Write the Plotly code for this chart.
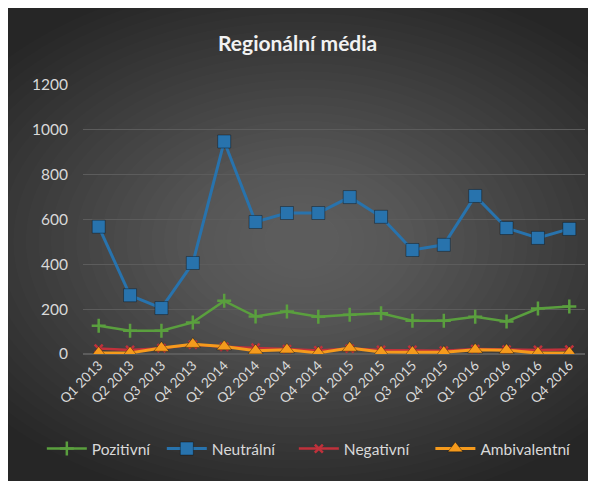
import plotly.graph_objects as go

# data
quarters = ['Q1 2013', 'Q2 2013', 'Q3 2013', 'Q4 2013',
            'Q1 2014', 'Q2 2014', 'Q3 2014', 'Q4 2014',
            'Q1 2015', 'Q2 2015', 'Q3 2015', 'Q4 2015',
            'Q1 2016', 'Q2 2016', 'Q3 2016', 'Q4 2016']
pozitivni = [126, 104, 104, 141, 237, 167, 190, 166, 175, 182, 148, 148, 166, 145, 203, 212]
neutralni = [568, 262, 205, 406, 948, 589, 629, 629, 700, 612, 464, 487, 705, 562, 518, 558]
negativni = [24, 18, 26, 42, 32, 28, 22, 16, 24, 18, 18, 15, 22, 20, 18, 20]
ambivalentni = [5, 5, 27, 44, 33, 15, 19, 5, 27, 9, 8, 8, 19, 17, 4, 5]
y_ticks = [0, 200, 400, 600, 800, 1000, 1200]

FONT = 'Lato'

fig = go.Figure()

series = [
    ('Pozitivní', pozitivni, '#5a9f3e', 'cross-thin', 10, 2.5),
    ('Neutrální', neutralni, '#2873ad', 'square', 13, 3),
    ('Negativní', negativni, '#c0313b', 'x-thin', 8, 2.5),
    ('Ambivalentní', ambivalentni, '#f59a1c', 'triangle-up', 13, 3),
]
# one legend per series so the entries can be spread like Excel does
legend_names = ['legend', 'legend2', 'legend3', 'legend4']
legend_x = [-0.082, 0.157, 0.42, 0.692]

for (name, vals, col, sym, size, lw), lg in zip(series, legend_names):
    fig.add_trace(go.Scatter(
        x=quarters, y=vals, name=name, mode='lines+markers', legend=lg,
        line=dict(color=col, width=lw),
        marker=dict(symbol=sym, size=size, color=col,
                    line=dict(color=col, width=2.5) if 'thin' in sym
                    else dict(color='rgba(0,0,0,0.35)', width=1)),
    ))

# fake radial glow of the Excel dark style
shapes = []
n = 30
for i in range(n):
    k = i / n
    shapes.append(dict(
        type='circle', xref='paper', yref='paper', layer='below',
        x0=0.436 - 0.8 + 0.75 * k, x1=0.436 + 0.8 - 0.75 * k,
        y0=0.42 - 1.0 + 0.92 * k, y1=0.42 + 1.0 - 0.92 * k,
        fillcolor='rgba(255,255,255,0.011)', line=dict(width=0),
    ))

legend_style = dict(orientation='h', xanchor='left', y=-0.353, yanchor='middle',
                    font=dict(size=15.5, color='#d9d9d9'), bgcolor='rgba(0,0,0,0)',
                    itemwidth=40)

fig.update_layout(
    width=596, height=481,
    margin=dict(l=75, r=19, t=77, b=135),
    paper_bgcolor='#262626', plot_bgcolor='rgba(0,0,0,0)',
    font=dict(family=FONT, color='#d9d9d9', size=14),
    title=dict(text='<b>Regionální média</b>', x=0.486, xanchor='center',
               y=0.925, yanchor='middle',
               font=dict(family=FONT, size=21, color='#f2f2f2')),
    shapes=shapes,
    showlegend=True,
    xaxis=dict(type='category', range=[-0.5, 15.5], showgrid=False, showline=False,
               tickangle=-45, tickfont=dict(size=13.5, color='#d9d9d9'), zeroline=False),
    yaxis=dict(range=[0, 1200], tickvals=y_ticks, gridcolor='#5c5c5c', gridwidth=1,
               zeroline=True, zerolinecolor='#5c5c5c', showline=False,
               tickfont=dict(size=15.5, color='#d9d9d9'), ticklabelstandoff=14),
)
for lg, lx in zip(legend_names, legend_x):
    fig.update_layout({lg: dict(legend_style, x=lx)})

fig.write_html('out.html')
